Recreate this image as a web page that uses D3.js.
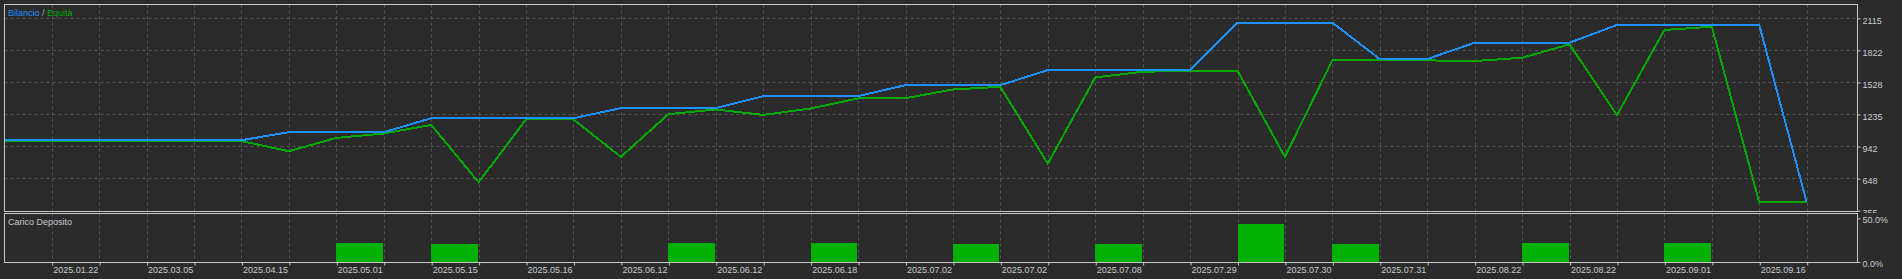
<!DOCTYPE html>
<html>
<head>
<meta charset="utf-8">
<script src="https://cdn.jsdelivr.net/npm/d3@7"></script>
<style>
    body { margin: 0; background: #2b2b2b; }
    svg { display: block; font-family: "Liberation Sans", Arial, sans-serif; font-size: 9px; }
</style>
</head>
<body>
<div id="chart"></div>
<script>
// deal by deal values (one point per grid step)
const balance = [1000, 1000, 1000, 1000, 1000, 1000, 1073, 1073, 1073, 1201, 1201, 1201, 1201,
    1293, 1293, 1293, 1403, 1403, 1403, 1504, 1504, 1504, 1641, 1641, 1641, 1641, 2075, 2075, 2075,
    1742, 1742, 1892, 1892, 1892, 2054, 2054, 2054, 2054, 431];
const equity = [992, 992, 992, 992, 992, 992, 899, 1021, 1061, 1140, 615, 1190, 1190,
    847, 1238, 1281, 1231, 1290, 1382, 1384, 1464, 1488, 786, 1574, 1626, 1635, 1635, 847, 1733,
    1733, 1730, 1724, 1754, 1877, 1229, 2008, 2038, 431, 431];

// deposit load bars
const loadIdx = [7, 9, 14, 17, 20, 23, 26, 28, 32, 35];
const loadPct = [21.7, 20.6, 21.7, 21.7, 20.6, 20.6, 43.5, 20.6, 21.7, 21.7];

// tick labels
const dateLabels = ["2025.01.22", "2025.03.05", "2025.04.15", "2025.05.01", "2025.05.15",
    "2025.05.16", "2025.06.12", "2025.06.12", "2025.06.18", "2025.07.02", "2025.07.02",
    "2025.07.08", "2025.07.29", "2025.07.30", "2025.07.31", "2025.08.22", "2025.08.22",
    "2025.09.01", "2025.09.16"];
const yTicks = [355, 648, 942, 1235, 1528, 1822, 2115];
const loadTicks = [0, 50];

const W = 1902, H = 279;
const left = 4.5, right = 1857.5;
const top1 = 4.5, bottom1 = 211.5;
const top2 = 213.5, bottom2 = 262.5;

const frame = "#c8c8c8";
const grid = "#555555";
const textCol = "#c8ccd2";

const svg = d3.select("#chart").append("svg")
    .attr("width", W)
    .attr("height", H);

svg.append("rect")
    .attr("width", W).attr("height", H)
    .attr("fill", "#2b2b2b");

// scales
const n = balance.length;
const x = d3.scaleLinear()
    .domain([0, n - 1])
    .range([4.3, 1806.7]);

const y = d3.scaleLinear()
    .domain([355, 2115])
    .range([210.7, 18.3]);

const yLoad = d3.scaleLinear()
    .domain([0, 50])
    .range([262, 218.3]);

const snap = v => Math.round(v) + 0.5;

// grid
const gridIdx = d3.range(1, n);
[[top1, bottom1], [top2, bottom2]].forEach(([t, b]) => {
    svg.append("g").selectAll("line")
        .data(gridIdx)
        .enter().append("line")
        .attr("x1", d => snap(x(d))).attr("x2", d => snap(x(d)))
        .attr("y1", t).attr("y2", b)
        .attr("stroke", grid)
        .attr("stroke-dasharray", "3,3");
});

svg.append("g").selectAll("line")
    .data(yTicks.slice(1))
    .enter().append("line")
    .attr("x1", left).attr("x2", right)
    .attr("y1", d => snap(y(d) - 0.5)).attr("y2", d => snap(y(d) - 0.5))
    .attr("stroke", grid)
    .attr("stroke-dasharray", "3,3");

// deposit load bars
svg.append("g").selectAll("rect")
    .data(loadIdx)
    .enter().append("rect")
    .attr("x", d => Math.round(x(d)))
    .attr("width", d => Math.round(x(d + 1)) - Math.round(x(d)) - 1)
    .attr("y", (d, i) => Math.round(yLoad(loadPct[i])))
    .attr("height", (d, i) => yLoad(0) - Math.round(yLoad(loadPct[i])))
    .attr("fill", "#00b000");

// lines
const line = d3.line()
    .x((d, i) => x(i))
    .y(d => y(d));

svg.append("path")
    .datum(equity)
    .attr("d", line)
    .attr("fill", "none")
    .attr("stroke", "#00aa00")
    .attr("stroke-width", 2)
    .attr("shape-rendering", "crispEdges");

svg.append("path")
    .datum(balance)
    .attr("d", line)
    .attr("fill", "none")
    .attr("stroke", "#1e90ff")
    .attr("stroke-width", 2)
    .attr("shape-rendering", "crispEdges");

// frames
[[top1, bottom1], [top2, bottom2]].forEach(([t, b]) => {
    svg.append("rect")
        .attr("x", left).attr("y", t)
        .attr("width", right - left).attr("height", b - t)
        .attr("fill", "none")
        .attr("stroke", frame);
});

// axis
svg.append("clipPath").attr("id", "clipTop")
    .append("rect").attr("x", 0).attr("y", 0).attr("width", W).attr("height", 213);

const yAxis = d3.axisRight(y)
    .tickValues(yTicks)
    .tickSize(3)
    .tickFormat(d3.format("d"));

const loadAxis = d3.axisRight(yLoad)
    .tickValues(loadTicks)
    .tickSize(3)
    .tickFormat(d => d.toFixed(1) + "%");

const xAxis = d3.axisBottom(x)
    .tickValues(gridIdx)
    .tickSize(3)
    .tickFormat(d => d % 2 === 1 ? dateLabels[(d - 1) / 2] : "");

// axis call
const yAxisGroup = svg.append("g")
    .attr("transform", "translate(" + right + ",0)")
    .attr("clip-path", "url(#clipTop)")
    .call(yAxis);

const loadAxisGroup = svg.append("g")
    .attr("transform", "translate(" + right + ",0)")
    .call(loadAxis);

const xAxisGroup = svg.append("g")
    .attr("transform", "translate(0," + bottom2 + ")")
    .call(xAxis);

[yAxisGroup, loadAxisGroup, xAxisGroup].forEach(g => {
    g.select(".domain").remove();
    g.selectAll(".tick line").attr("stroke", frame);
    g.selectAll(".tick text")
        .attr("fill", textCol)
        .style("font-family", "\"Liberation Sans\", Arial, sans-serif")
        .style("font-size", "9px");
});

yAxisGroup.selectAll(".tick text").attr("x", 5).attr("dy", "0.55em");
loadAxisGroup.selectAll(".tick text").attr("x", 5).attr("dy", "0.5em");
xAxisGroup.selectAll(".tick line").attr("transform", "translate(0.5,0)");
xAxisGroup.selectAll(".tick text")
    .attr("text-anchor", "start")
    .attr("x", 1)
    .attr("y", 4)
    .attr("dy", "0.75em");

// titles
const legend = svg.append("text")
    .attr("x", 8).attr("y", 16);
legend.append("tspan").attr("fill", "#1e90ff").text("Bilancio");
legend.append("tspan").attr("fill", "#aaaaaa").text(" / ");
legend.append("tspan").attr("fill", "#00aa00").text("Equità");

svg.append("text")
    .attr("x", 8).attr("y", 225)
    .attr("fill", textCol)
    .text("Carico Deposito");
</script>
</body>
</html>
